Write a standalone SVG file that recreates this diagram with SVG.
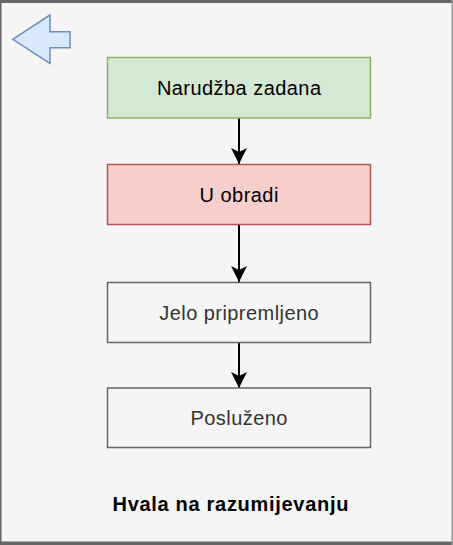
<svg xmlns="http://www.w3.org/2000/svg" width="453" height="545" viewBox="0 0 453 545">
<style>
.box{stroke-width:1.5}
.lbl{font-family:"Liberation Sans",Arial,sans-serif;font-size:20px;letter-spacing:0.45px;text-anchor:middle;fill:#000}
.lblg{font-family:"Liberation Sans",Arial,sans-serif;font-size:20px;letter-spacing:0.45px;text-anchor:middle;fill:#333}
.conn{stroke:#000;stroke-width:2;fill:none}
</style>
<defs>
<marker id="ah" markerUnits="userSpaceOnUse" markerWidth="18" markerHeight="18" refX="16" refY="8" orient="auto">
<path d="M16,8 L0,0 L4,8 L0,16 Z" fill="#000"/>
</marker>
</defs>
<g id="frame">
<rect x="0" y="0" width="453" height="545" fill="#f5f5f5"/>
<rect x="0" y="0" width="453" height="3" fill="#666"/>
<rect x="0" y="541.5" width="453" height="3.5" fill="#666"/>
<rect x="0" y="0" width="1.5" height="545" fill="#666"/>
<rect x="451.5" y="0" width="1.5" height="545" fill="#999"/>
</g>
<g id="back">
<path d="M12.7,39.3 L50,15 L50,31.7 L70,31.7 L70,47.7 L50,47.7 L50,63.3 Z" fill="#dae8fc" stroke="#6c8ebf" stroke-width="1.5"/>
</g>
<g id="connectors">
<line class="conn" x1="239" y1="118" x2="239" y2="164" marker-end="url(#ah)"/>
<line class="conn" x1="239" y1="225" x2="239" y2="282" marker-end="url(#ah)"/>
<line class="conn" x1="239" y1="342" x2="239" y2="388" marker-end="url(#ah)"/>
</g>
<g id="n1">
<rect class="box" x="107.5" y="57.5" width="263" height="60.5" fill="#d5e8d4" stroke="#82b366"/>
<text class="lbl" x="239.2" y="94.5">Narudžba zadana</text>
</g>
<g id="n2">
<rect class="box" x="107.5" y="164.5" width="263" height="60" fill="#f8cecc" stroke="#b85450"/>
<text class="lbl" x="239.2" y="201.5">U obradi</text>
</g>
<g id="n3">
<rect class="box" x="107.5" y="282.5" width="263" height="60" fill="#f5f5f5" stroke="#666"/>
<text class="lblg" x="239.2" y="319.5">Jelo pripremljeno</text>
</g>
<g id="n4">
<rect class="box" x="107.5" y="388" width="263" height="59.5" fill="#f5f5f5" stroke="#666"/>
<text class="lblg" x="239.2" y="424.5">Posluženo</text>
</g>
<g id="footer">
<text x="230.8" y="511" font-family="'Liberation Sans',Arial,sans-serif" font-size="20" font-weight="bold" letter-spacing="0.7" text-anchor="middle" fill="#000">Hvala na razumijevanju</text>
</g>
</svg>
